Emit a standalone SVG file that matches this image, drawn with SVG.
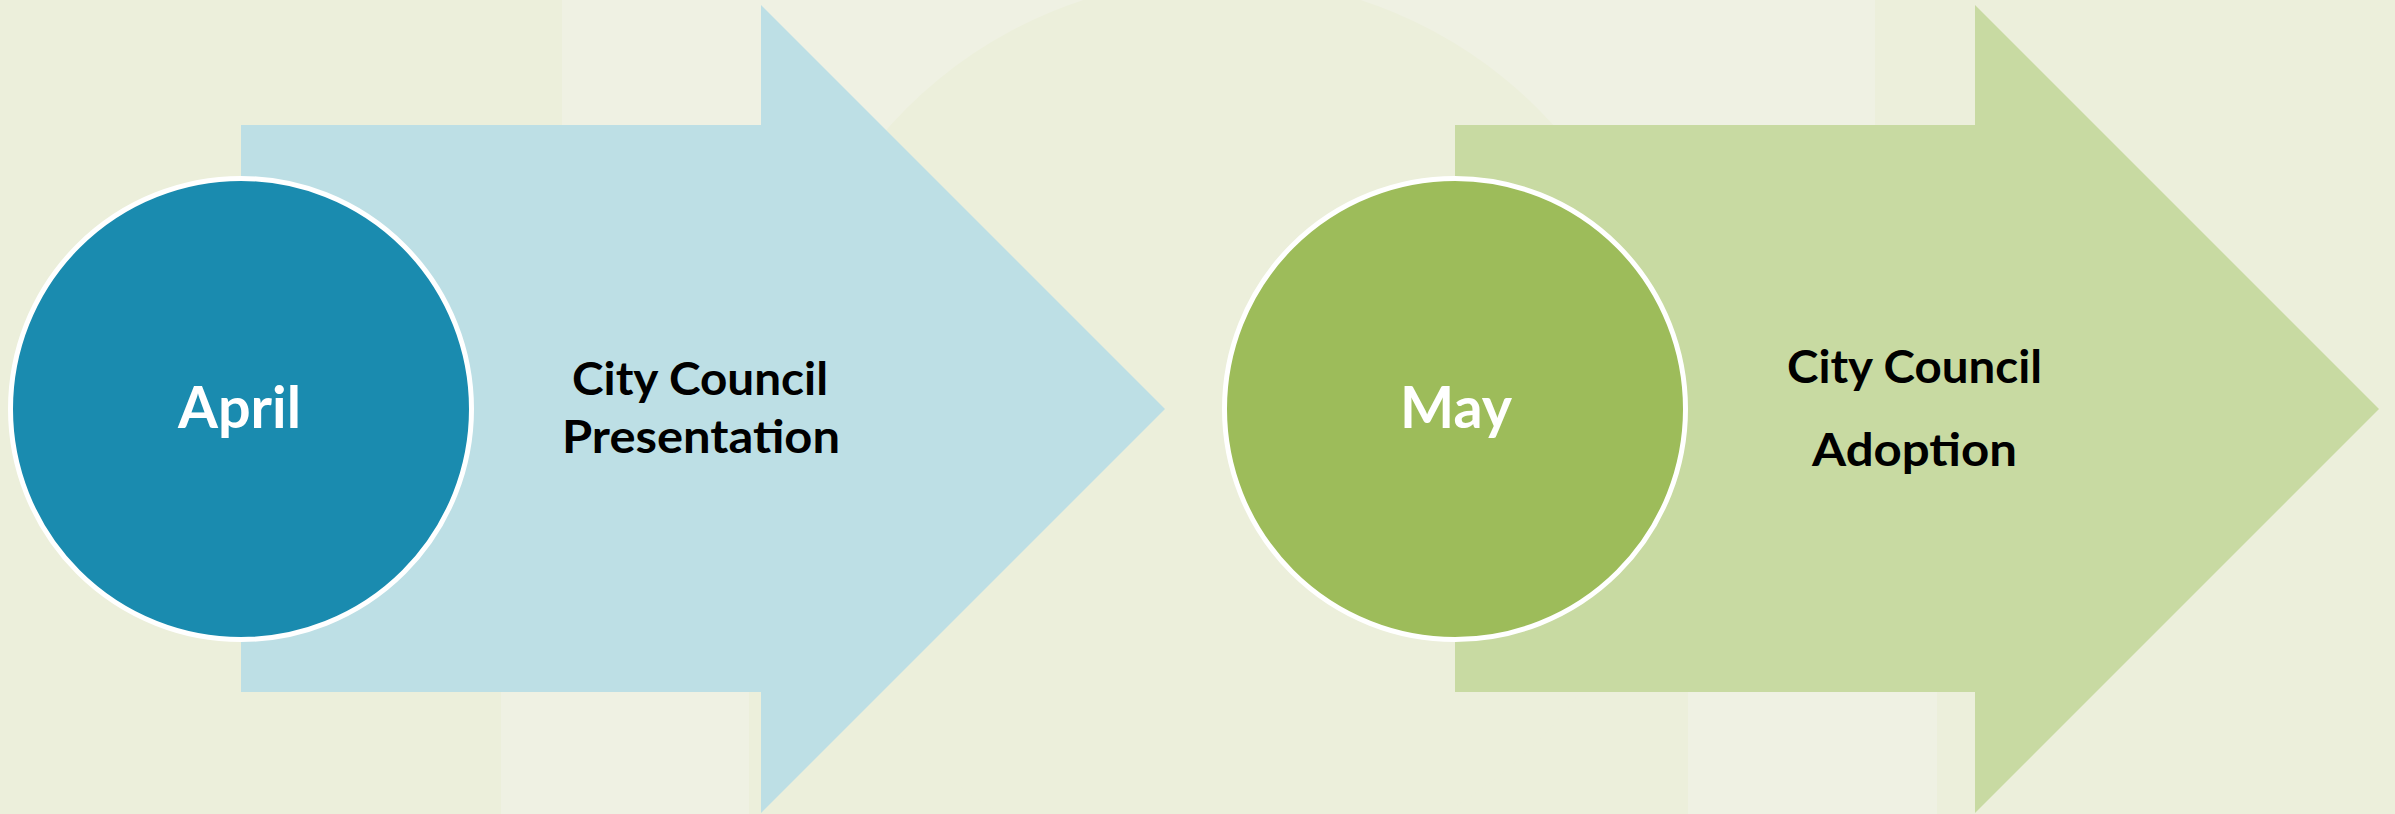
<svg xmlns="http://www.w3.org/2000/svg" width="2395" height="814" viewBox="0 0 2395 814">
  <style>
    .date { font-family: Lato, "Open Sans", "Liberation Sans", sans-serif; font-weight: 700; font-size: 57px; fill: #FFFFFF; text-anchor: middle; }
    .step { font-family: Lato, "Open Sans", "Liberation Sans", sans-serif; font-weight: 700; font-size: 45px; fill: #000000; text-anchor: middle; }
    .disc { stroke: #FFFFFF; stroke-width: 5; }
  </style>
  <defs>
    <!-- right-pointing block arrow, 45-degree head -->
    <polygon id="block-arrow" points="0,125 520,125 520,5 924,409 520,813 520,692 0,692"/>
  </defs>

  <!-- backdrop with faint lighter bands and a large soft disc -->
  <g id="backdrop">
    <rect x="0" y="0" width="2395" height="814" fill="#ECEFDB"/>
    <rect x="562" y="0" width="1313" height="320" fill="#EFF1E3"/>
    <circle cx="1222" cy="425" r="447" fill="#ECEFDB"/>
    <rect x="501" y="692" width="248" height="122" fill="#EFF1E3"/>
    <rect x="1688" y="692" width="249" height="122" fill="#EFF1E3"/>
  </g>

  <g id="connectors"/>

  <g id="node-april">
    <use href="#block-arrow" x="241" fill="#BDDFE5"/>
    <circle class="disc" cx="241" cy="409" r="230.5" fill="#1A8BAF"/>
    <text class="date" x="239.5" y="428" textLength="123" lengthAdjust="spacingAndGlyphs">April</text>
    <text class="step" x="700" y="395" textLength="256" lengthAdjust="spacingAndGlyphs">City Council</text>
    <text class="step" x="701" y="453" textLength="278" lengthAdjust="spacingAndGlyphs">Presentation</text>
  </g>

  <g id="node-may">
    <use href="#block-arrow" x="1455" fill="#C8DAA2"/>
    <circle class="disc" cx="1455" cy="409" r="230.5" fill="#9DBC5A"/>
    <text class="date" x="1456" y="428" textLength="112" lengthAdjust="spacingAndGlyphs">May</text>
    <text class="step" x="1914.5" y="383" textLength="255" lengthAdjust="spacingAndGlyphs">City Council</text>
    <text class="step" x="1914.5" y="466" textLength="205" lengthAdjust="spacingAndGlyphs">Adoption</text>
  </g>
</svg>
